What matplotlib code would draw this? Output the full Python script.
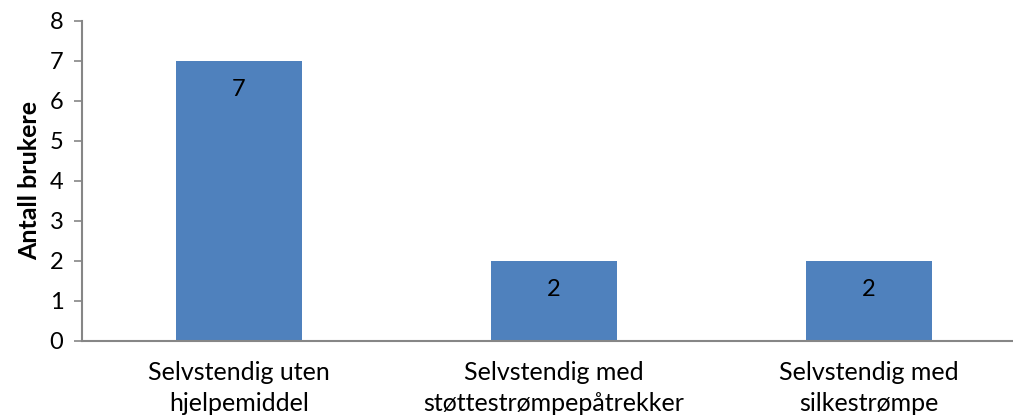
import matplotlib.pyplot as plt

# -----------------------------------
# Data
# -----------------------------------
categories = [
    "Selvstendig uten\nhjelpemiddel",
    "Selvstendig med\nstøttestrømpepåtrekker",
    "Selvstendig med\nsilkestrømpe",
]
values = [7, 2, 2]
y_ticks = [0, 1, 2, 3, 4, 5, 6, 7, 8]

BAR_COLOR = "#4F81BD"
AXIS_COLOR = "#868686"

plt.rcParams["font.family"] = ["Lato", "DejaVu Sans"]

# -----------------------------------
# Figure
# -----------------------------------
fig = plt.figure(figsize=(10.13, 4.19), dpi=100)
ax = fig.add_axes([81.5 / 1013, 78.5 / 419, 945 / 1013, 320 / 419])

x = list(range(len(categories)))
ax.bar(x, values, width=0.4, color=BAR_COLOR, zorder=2)

for xi, v in zip(x, values):
    ax.annotate(str(v), (xi, v), xytext=(0, -21), textcoords="offset points",
                ha="center", va="center", fontsize=17, color="black")

ax.set_xlim(-0.5, 2.5)
ax.set_ylim(0, 8)
ax.set_yticks(y_ticks)
ax.set_xticks(x)
ax.set_xticklabels(categories, fontsize=18, linespacing=1.42)
ax.tick_params(axis="x", length=0, pad=15)
ax.tick_params(axis="y", length=6, width=1.2, color=AXIS_COLOR, labelsize=17, pad=7)

for side in ["top", "right"]:
    ax.spines[side].set_visible(False)
for side in ["left", "bottom"]:
    ax.spines[side].set_color(AXIS_COLOR)
    ax.spines[side].set_linewidth(1.5)

ax.set_ylabel("Antall brukere", fontsize=18, fontweight="bold", labelpad=6)

fig.savefig("out.png", dpi=100)
